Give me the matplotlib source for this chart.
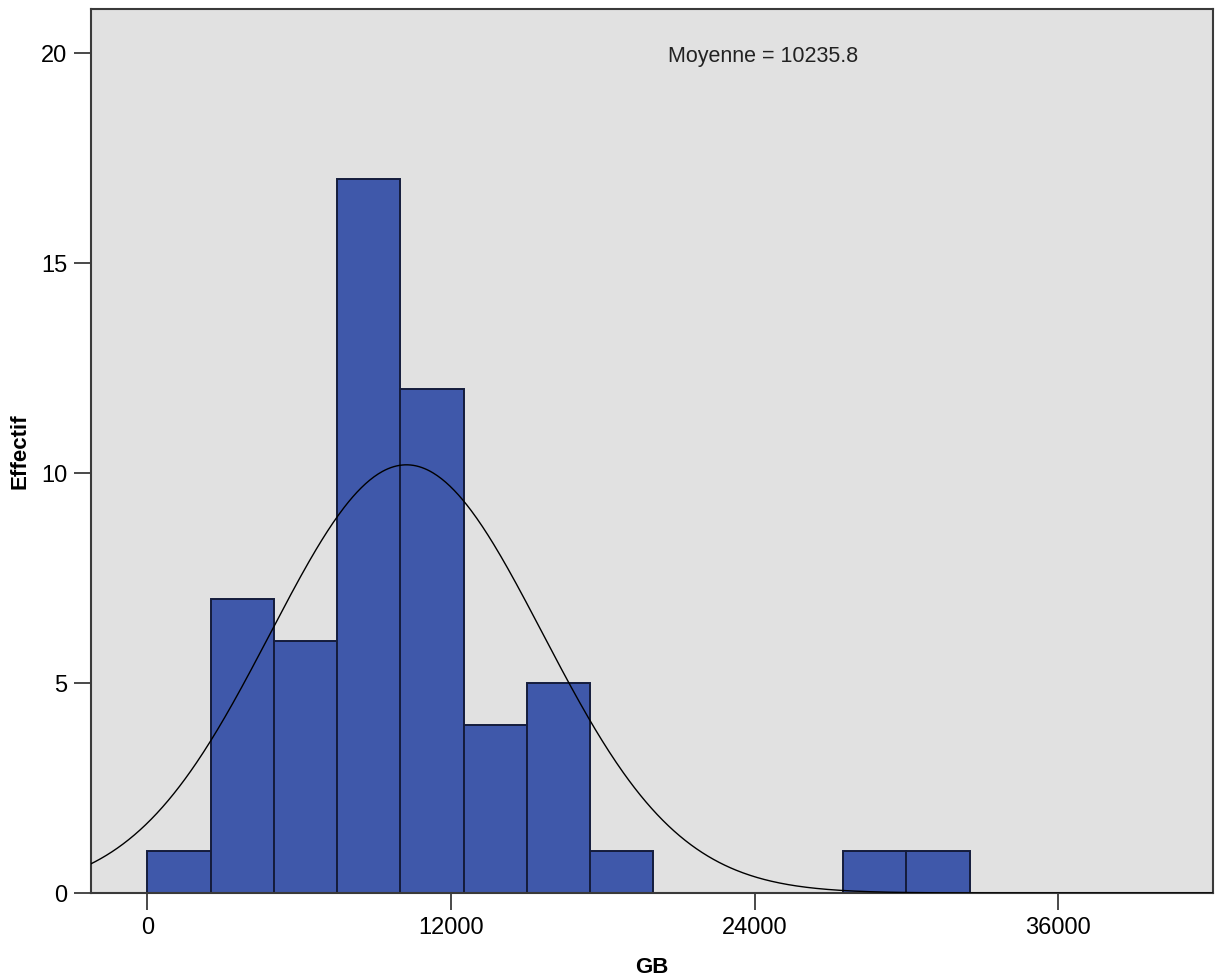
import numpy as np
import matplotlib
matplotlib.use("Agg")
import matplotlib.pyplot as plt

# Histogram data (bin edges in GB, counts)
bin_left = [0, 2500, 5000, 7500, 10000, 12500, 15000, 17500, 27500, 30000]
counts = [1, 7, 6, 17, 12, 4, 5, 1, 1, 1]
bin_width = 2500
mean_val = 10235.8
std_val = 5380.0
n_total = sum(counts)

x_ticks = [0, 12000, 24000, 36000]
y_ticks = [0, 5, 10, 15, 20]

plt.rcParams['font.family'] = ['Liberation Sans', 'DejaVu Sans']

fig = plt.figure(figsize=(12.16, 9.76), dpi=100)
ax = fig.add_axes([91/1216, 1 - 893/976, (1213 - 91)/1216, (893 - 9)/976])
ax.set_facecolor('#E1E1E1')

ax.bar(bin_left, counts, width=bin_width, align='edge', color='#3F58AA',
       edgecolor='#141C3C', linewidth=1.4, zorder=2)

xs = np.linspace(-2300, 42200, 800)
ys = n_total * bin_width / (std_val * np.sqrt(2 * np.pi)) * np.exp(-0.5 * ((xs - mean_val) / std_val) ** 2)
ax.plot(xs, ys, color='black', linewidth=1.0, zorder=3)

ax.set_xlim(-2233, 42115)
ax.set_ylim(0, 21.05)
ax.set_xticks(x_ticks)
ax.set_xticklabels([str(t) for t in x_ticks])
ax.set_yticks(y_ticks)
ax.set_yticklabels([str(t) for t in y_ticks])

for s in ax.spines.values():
    s.set_color('#3A3A3A')
    s.set_linewidth(1.5)

ax.tick_params(axis='both', direction='out', length=12, width=1.3, color='#3A3A3A',
               labelsize=17, pad=5)

ax.set_xlabel('GB', fontsize=16, fontweight='bold', labelpad=13)
ax.set_ylabel('Effectif', fontsize=16, fontweight='bold', labelpad=8)

ax.text(0.514, 0.946, 'Moyenne = 10235.8', transform=ax.transAxes, fontsize=15.5,
        color='#222222', ha='left', va='center')

fig.savefig('out.png', dpi=100, facecolor='white')
